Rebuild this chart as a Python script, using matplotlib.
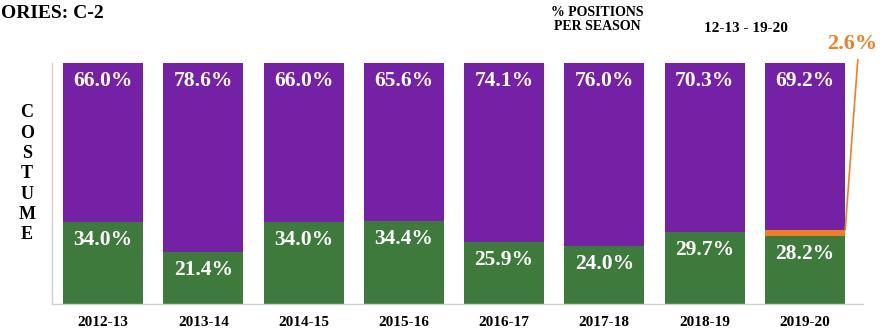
import matplotlib
matplotlib.use("Agg")
import matplotlib.pyplot as plt
import numpy as np

seasons = ["2012-13", "2013-14", "2014-15", "2015-16", "2016-17", "2017-18", "2018-19", "2019-20"]
green_vals = [34.0, 21.4, 34.0, 34.4, 25.9, 24.0, 29.7, 28.2]
orange_vals = [0, 0, 0, 0, 0, 0, 0, 2.6]
purple_vals = [66.0, 78.6, 66.0, 65.6, 74.1, 76.0, 70.3, 69.2]

PURPLE = "#7421A6"
GREEN = "#3E7A3B"
ORANGE = "#F07F22"
SERIF = ["Liberation Serif", "DejaVu Serif"]

W, H = 896, 334
fig = plt.figure(figsize=(W / 100, H / 100), dpi=100)
ax_l, ax_r, ax_t, ax_b = 52, 863, 63, 304
ax = fig.add_axes([ax_l / W, (H - ax_b) / H, (ax_r - ax_l) / W, (ax_b - ax_t) / H])

x = np.arange(len(seasons))
g = np.array(green_vals)
o = np.array(orange_vals)
p = np.array(purple_vals)
ax.bar(x, g, width=0.8, color=GREEN, zorder=2)
ax.bar(x, o, width=0.8, bottom=g, color=ORANGE, zorder=2)
ax.bar(x, p, width=0.8, bottom=g + o, color=PURPLE, zorder=2)

ax.set_xlim(-0.51, 7.58)
ax.set_ylim(0, 100)

for i in range(len(seasons)):
    ax.annotate(f"{g[i]:.1f}%", xy=(x[i], g[i]), xytext=(0, -13), textcoords="offset points",
                ha="center", va="center", color="white", fontsize=15.5, fontweight="bold", family=SERIF)
    ax.annotate(f"{p[i]:.1f}%", xy=(x[i], g[i] + o[i] + p[i]), xytext=(0, -13), textcoords="offset points",
                ha="center", va="center", color="white", fontsize=15.5, fontweight="bold", family=SERIF)

# orange callout
ax.annotate("", xy=(7.4, g[7] + o[7] / 2), xytext=(7.53, 102.5),
            arrowprops=dict(arrowstyle="-", color=ORANGE, lw=1.2), annotation_clip=False)
ax.text(7.47, 107.9, f"{o[7]:.1f}%", ha="center", va="center", color=ORANGE,
        fontsize=16, fontweight="bold", family=SERIF, clip_on=False)

for s in ["top", "right"]:
    ax.spines[s].set_visible(False)
for s in ["left", "bottom"]:
    ax.spines[s].set_color("#cfcfcf")
    ax.spines[s].set_linewidth(1.0)
ax.set_yticks([])
ax.set_xticks(x)
ax.set_xticklabels(seasons, fontsize=11, fontweight="bold", family=SERIF)
ax.tick_params(axis="x", length=0, pad=9)

# texts
fig.text(1 / W, 1 - 13 / H, "ORIES: C-2", ha="left", va="center", fontsize=14,
         fontweight="bold", family=SERIF)
fig.text(597 / W, 1 - 20 / H, "% POSITIONS\nPER SEASON", ha="center", va="center",
         fontsize=10, fontweight="bold", family=SERIF, linespacing=1.1)
fig.text(746 / W, 1 - 28 / H, "12-13 - 19-20", ha="center", va="center",
         fontsize=11, fontweight="bold", family=SERIF)

letters = list("COSTUME")
for k, ch in enumerate(letters):
    fig.text(27 / W, 1 - (113 + k * 20.3) / H, ch, ha="center", va="center",
             fontsize=13, fontweight="bold", family=SERIF)

fig.savefig("out.png", dpi=100)
